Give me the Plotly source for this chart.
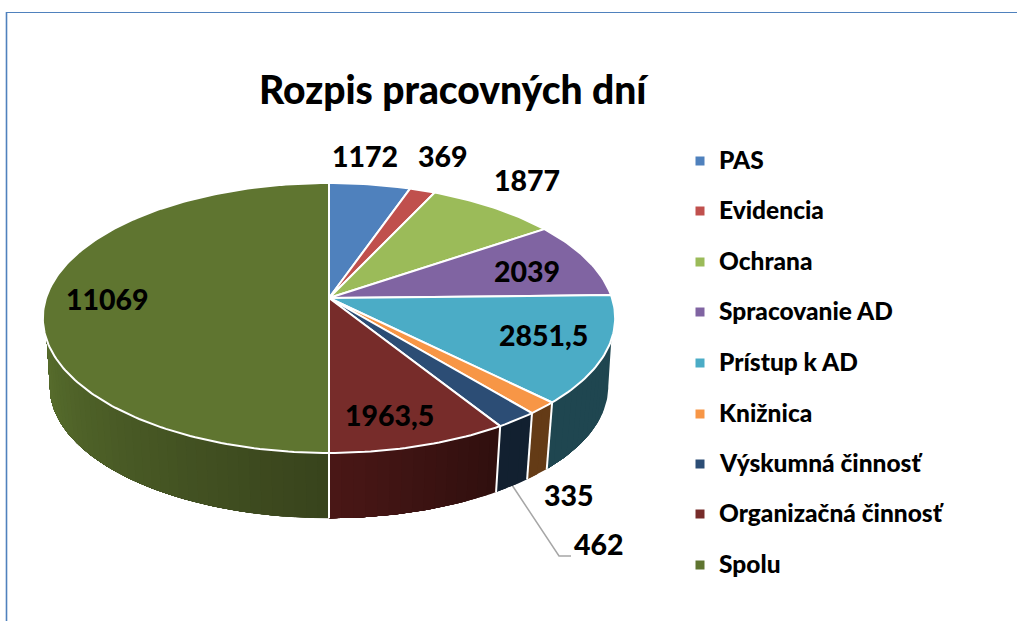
import math
import plotly.graph_objects as go

# --- data ---
categories = ["PAS", "Evidencia", "Ochrana", "Spracovanie AD", "Prístup k AD",
              "Knižnica", "Výskumná činnosť", "Organizačná činnosť", "Spolu"]
values = [1172, 369, 1877, 2039, 2851.5, 335, 462, 1963.5, 11069]
value_labels = ["1172", "369", "1877", "2039", "2851,5", "335", "462", "1963,5", "11069"]
title_text = "Rozpis pracovných dní"

# --- style ---
top_colors = ["#4F81BD", "#C0504D", "#9BBB59", "#8064A2", "#4BACC6",
              "#F79646", "#2C4D75", "#772C2A", "#5F7530"]
wall_from = ["#2A4A70", "#70302D", "#5E7135", "#4C3C61", "#1F4650",
             "#643B16", "#122030", "#2F0F0E", "#38431C"]
wall_to = ["#2A4A70", "#70302D", "#5E7135", "#4C3C61", "#1F4650",
           "#643B16", "#122030", "#4A1716", "#566C2C"]
label_xy = [(365, 156), (443, 156), (527, 180), (527, 271), (543, 335),
            (569, 495), (599, 544), (389, 415), (107, 299)]
legend_x_marker, legend_x_text = 700, 716.5
legend_y = [161, 211, 262, 312, 363, 414, 464, 514, 565]
FONT = "Lato"
W, H = 1017, 621

# --- projection of the tilted disc onto the page ---
CX, CY, A, B, K = 329, 298, 283, 132, 0.148
DROP, SHRINK = 69, 0.976


def project(theta_deg, lower=False):
    th = math.radians(theta_deg)
    u, v = math.sin(th), math.cos(th)
    w = 1 + K * v
    x, y = A * u / w, -B * v / w
    if lower:
        return CX + SHRINK * x, CY + DROP + SHRINK * y
    return CX + x, CY + y


def arc(a0, a1, lower=False, step=1.0):
    n = max(1, int(abs(a1 - a0) / step))
    return [project(a0 + (a1 - a0) * i / n, lower) for i in range(n + 1)]


def mix(c0, c1, t):
    p = [int(c0[i:i + 2], 16) for i in (1, 3, 5)]
    q = [int(c1[i:i + 2], 16) for i in (1, 3, 5)]
    return "rgb(%d,%d,%d)" % tuple(round(a + (b - a) * t) for a, b in zip(p, q))


def poly(points, fill, line_color=None, width=0):
    xs, ys = zip(*points)
    return go.Scatter(x=list(xs) + [xs[0]], y=list(ys) + [ys[0]], mode="lines",
                      fill="toself", fillcolor=fill,
                      line=dict(color=line_color or fill, width=width),
                      hoverinfo="skip", showlegend=False)


def polyline(points, color, width):
    xs, ys = zip(*points)
    return go.Scatter(x=list(xs), y=list(ys), mode="lines",
                      line=dict(color=color, width=width),
                      hoverinfo="skip", showlegend=False)


total = sum(values)
edges = [0.0]
for val in values:
    edges.append(edges[-1] + val / total * 360)

fig = go.Figure()

# leader line of the small slice (its start is hidden by the wall)
leader_x = [512, 559, 571]
leader_y = [485, 556, 556]
fig.add_trace(go.Scatter(x=leader_x, y=leader_y, mode="lines",
                         line=dict(color="#A6A6A6", width=1.5),
                         hoverinfo="skip", showlegend=False))

# side wall (front part of the disc only)
WALL_R, WALL_L = 107.7, 252.3      # where the wall meets the top rim
LOW_R, LOW_L = 98.3, 261.7         # where its outline meets the lower rim
for i, (a0, a1) in enumerate(zip(edges[:-1], edges[1:])):
    s, e = max(a0, WALL_R), min(a1, WALL_L)
    if e <= s:
        continue
    n = max(1, int((e - s) / 2))
    for j in range(n):
        t0 = s + (e - s) * j / n
        # every strip runs on to the end of its slice; the next one paints over it
        upper = arc(t0, e)
        bottom_start = LOW_R if (j == 0 and abs(t0 - WALL_R) < 1e-6) else t0
        bottom_end = LOW_L if abs(e - WALL_L) < 1e-6 else e
        lower = arc(bottom_end, bottom_start, lower=True)
        col = mix(wall_from[i], wall_to[i], (j + 0.5) / n)
        fig.add_trace(poly(upper + lower, col, col, 0))
    if WALL_R < a0 < WALL_L:
        fig.add_trace(polyline([project(a0), project(a0, True)], "white", 2))

# top face
for i, (a0, a1) in enumerate(zip(edges[:-1], edges[1:])):
    fig.add_trace(poly([(CX, CY)] + arc(a0, a1), top_colors[i], "white", 2))

# legend keys
fig.add_trace(go.Scatter(x=[legend_x_marker] * len(categories), y=legend_y, mode="markers",
                         marker=dict(symbol="square", size=9, color=top_colors),
                         hoverinfo="skip", showlegend=False))

annotations = [dict(x=454, y=89, text=title_text, showarrow=False, xref="x", yref="y",
                    font=dict(family=FONT, size=39, color="black", weight=900))]
for text, (x, y) in zip(value_labels, label_xy):
    annotations.append(dict(x=x, y=y, text=text, showarrow=False, xref="x", yref="y",
                            font=dict(family=FONT, size=28.5, color="black", weight=900)))
for cat, y in zip(categories, legend_y):
    annotations.append(dict(x=legend_x_text, y=y - 1.5, text=cat, showarrow=False, xref="x", yref="y",
                            xanchor="left",
                            font=dict(family=FONT, size=24.5, color="black", weight=900)))

shapes = [dict(type="line", x0=6.5, x1=6.5, y0=12, y1=H, xref="x", yref="y",
               line=dict(color="#4F81BD", width=1.6)),
          dict(type="line", x0=6, x1=W, y0=12.5, y1=12.5, xref="x", yref="y",
               line=dict(color="#4F81BD", width=1.2))]

fig.update_layout(width=W, height=H, margin=dict(l=0, r=0, t=0, b=0),
                  paper_bgcolor="white", plot_bgcolor="white",
                  annotations=annotations, shapes=shapes, showlegend=False,
                  xaxis=dict(range=[0, W], visible=False, fixedrange=True),
                  yaxis=dict(range=[H, 0], visible=False, fixedrange=True))
fig.write_html("out.html", config=dict(displayModeBar=False),
               post_script="document.body.style.margin='0';document.body.style.overflow='hidden';")
